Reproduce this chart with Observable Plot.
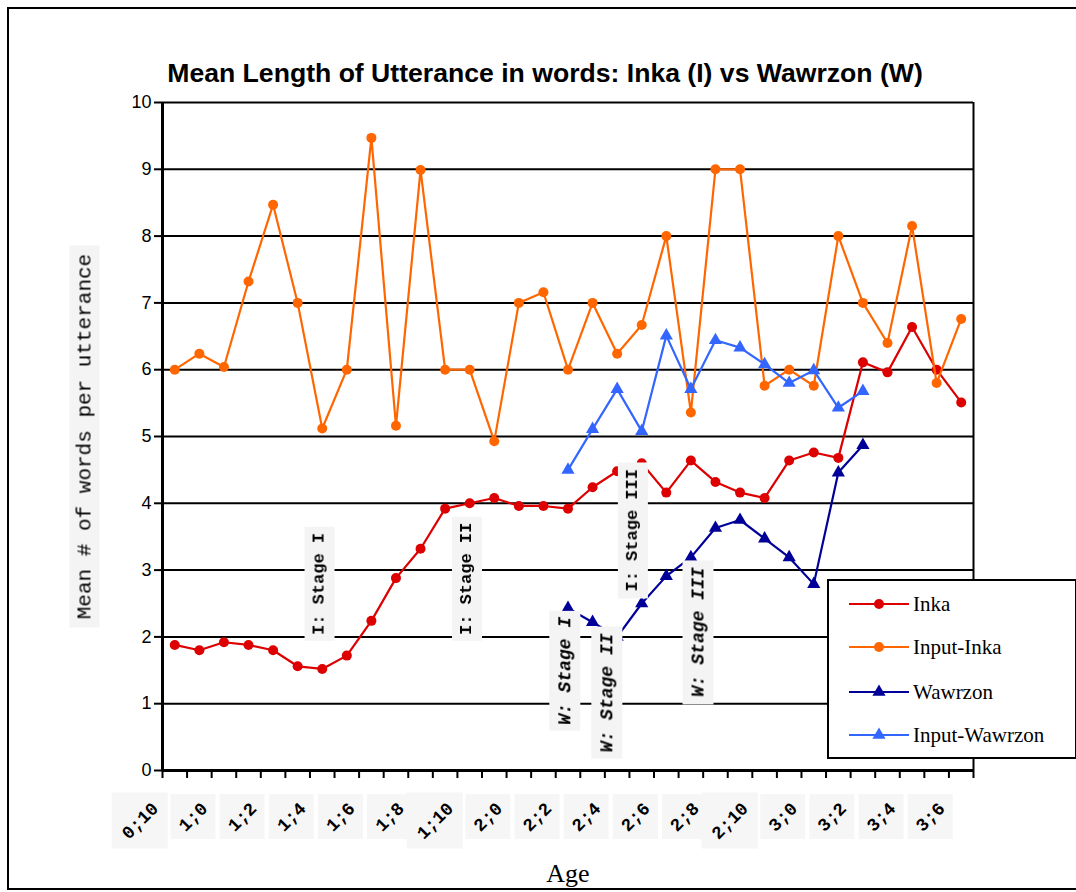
<!DOCTYPE html>
<html><head><meta charset="utf-8">
<script src="https://cdn.jsdelivr.net/npm/d3@7"></script>
<script src="https://cdn.jsdelivr.net/npm/@observablehq/plot@0.6"></script>
<style>
html,body{margin:0;padding:0;background:#fff;overflow:hidden;}
#wrap{position:relative;width:1076px;height:892px;overflow:hidden;}
#frame{position:absolute;left:7px;top:7px;width:1100px;height:879px;border:2px solid #000;}
#chart svg{position:absolute;left:0;top:0;}
#legend{position:absolute;left:827px;top:579px;width:246px;height:176px;border:2px solid #000;background:#fff;font-family:"Liberation Serif","Times New Roman",serif;font-size:21px;color:#000;}
#legend .row{position:absolute;left:0;height:30px;display:flex;align-items:center;}
#legend svg{display:block;margin-left:20px;}
#legend span{margin-left:4px;}
</style></head><body>
<div id="wrap"><div id="frame"></div><div id="chart"></div><div id="legend"></div></div>
<script>
const ages = ["0;10","0;11","1;0","1;1","1;2","1;3","1;4","1;5","1;6","1;7","1;8","1;9","1;10","1;11",
  "2;0","2;1","2;2","2;3","2;4","2;5","2;6","2;7","2;8","2;9","2;10","2;11","3;0","3;1","3;2","3;3","3;4","3;5","3;6"];
const tickLabels = ["0;10","1;0","1;2","1;4","1;6","1;8","1;10","2;0","2;2","2;4","2;6","2;8","2;10","3;0","3;2","3;4","3;6"];
const yTicks = [0,1,2,3,4,5,6,7,8,9,10];

const inka = [1.88,1.80,1.92,1.88,1.80,1.56,1.52,1.72,2.24,2.88,3.32,3.92,4.00,4.08,3.96,3.96,3.92,4.24,4.48,4.60,
  4.16,4.64,4.32,4.16,4.08,4.64,4.76,4.68,6.11,5.96,6.64,6.00,5.51];
const inputInka = [6.00,6.24,6.04,7.32,8.47,7.00,5.12,6.00,9.47,5.16,8.99,6.00,6.00,4.93,7.00,7.16,6.00,7.00,6.24,6.67,
  8.00,5.36,9.00,9.00,5.76,6.00,5.76,8.00,7.00,6.40,8.15,5.80,6.76];
const wawrzon = [null,null,null,null,null,null,null,null,null,null,null,null,null,null,null,null,
  2.43,2.22,2.00,2.50,2.91,3.19,3.63,3.75,3.47,3.19,2.79,4.46,4.87,null,null,null,null];
const inputWawrzon = [null,null,null,null,null,null,null,null,null,null,null,null,null,null,null,null,
  4.50,5.11,5.71,5.08,6.51,5.71,6.44,6.33,6.08,5.80,5.99,5.43,5.68,null,null,null,null];

const seriesNames = ["Inka","Input-Inka","Wawrzon","Input-Wawrzon"];
const seriesValues = [inka, inputInka, wawrzon, inputWawrzon];
const seriesColors = ["#dd0000","#ff6600","#000099","#3366ff"];
const seriesSymbols = ["circle","circle","triangle","triangle"];

const stageLabels = ["I: Stage I","I: Stage II","I: Stage III","W: Stage I","W: Stage II","W: Stage III"];
const stageAt = [6.35,12.35,19.1,16.35,18.06,21.77];
const stageLevel = [2.03,2.03,2.68,2.30,2.05,3.04];

const titleText = "Mean Length of Utterance in words: Inka (I) vs Wawrzon (W)";
const yTitle = "Mean # of words per utterance";
const xTitle = "Age";

// build tables
const rows = seriesNames.map((name, s) =>
  seriesValues[s].map((v, i) => ({name, x: i + 0.5, v})).filter(d => d.v != null));
const ticks = tickLabels.map(t => ({t, x: ages.indexOf(t) + 0.5}));
const stages = stageLabels.map((t, i) => ({t, x: stageAt[i], y: stageLevel[i], w: t.startsWith("W")}));

const seriesMarks = [];
rows.forEach((data, s) => {
  seriesMarks.push(Plot.line(data, {x: "x", y: "v", stroke: seriesColors[s], strokeWidth: 2.2}));
  seriesMarks.push(Plot.dot(data, {x: "x", y: "v", fill: seriesColors[s], stroke: "none",
    symbol: seriesSymbols[s], r: seriesSymbols[s] === "circle" ? 5 : 4.9}));
});

const monoFont = "'Liberation Mono','Courier New',monospace";
const chart = Plot.plot({
  width: 1076, height: 892,
  marginLeft: 162, marginRight: 103, marginTop: 102, marginBottom: 122,
  x: {domain: [0, 33]},
  y: {domain: [0, 10]},
  style: {background: "none", overflow: "visible", fontFamily: "'Liberation Sans',Arial,sans-serif"},
  marks: [
    Plot.ruleY(yTicks.filter(v => v > 0), {stroke: "#000", strokeWidth: 2}),
    Plot.ruleX([33], {stroke: "#000", strokeWidth: 2}),
    Plot.axisY({ticks: yTicks, tickSize: 8, tickPadding: 3, fontSize: 18, label: null, color: "#000", strokeWidth: 2, tickFormat: d => String(d)}),
    Plot.axisX({ticks: d3.range(0, 34), tickSize: 8, tickPadding: 0, label: null, color: "#000", strokeWidth: 2, tickFormat: () => ""}),
    Plot.ruleX([0], {stroke: "#000", strokeWidth: 3}),
    Plot.ruleY([0], {stroke: "#000", strokeWidth: 3}),
    // tick label backgrounds
    Plot.dot(ticks.filter(d => d.t.length === 3), {x: "x", y: () => 0, symbol: "square", r: 25.4, fill: "#f6f6f6", stroke: "none", dx: -31, dy: 46}),
    Plot.dot(ticks.filter(d => d.t.length === 4), {x: "x", y: () => 0, symbol: "square", r: 31.6, fill: "#f6f6f6", stroke: "none", dx: -35, dy: 50}),
    Plot.text(ticks, {x: "x", y: () => 0, text: "t", rotate: -45, textAnchor: "end", dx: -19.5, dy: 35,
      fontFamily: monoFont, fontWeight: "bold", fontSize: 18, fill: "#000"}),
    ...seriesMarks,
    // stage annotations
    Plot.text(stages.filter(d => !d.w), {x: "x", y: "y", text: "t", rotate: -90, textAnchor: "start",
      fontFamily: monoFont, fontWeight: "bold", fontSize: 17, fill: "#000"}),
    Plot.text(stages.filter(d => d.w), {x: "x", y: "y", text: "t", rotate: -90, textAnchor: "end",
      fontFamily: monoFont, fontWeight: "bold", fontStyle: "italic", fontSize: 18, fill: "#000"}),
    // titles
    Plot.text([titleText], {frameAnchor: "top", text: d => d, dx: -23, dy: -21, lineAnchor: "bottom", textAnchor: "middle",
      fontFamily: "'Liberation Sans',Arial,sans-serif", fontWeight: "bold", fontSize: 26.6, fill: "#000"}),
    Plot.text([yTitle], {frameAnchor: "left", text: d => d, dx: -79, rotate: -90, textAnchor: "middle",
      fontFamily: monoFont, fontSize: 21, fill: "#000"}),
    Plot.text([xTitle], {frameAnchor: "bottom", text: d => d, dy: 111, lineAnchor: "bottom", textAnchor: "middle",
      fontFamily: "'Liberation Serif','Times New Roman',serif", fontSize: 26, fill: "#000"})
  ]
});

// background boxes behind rotated labels
const ns = "http://www.w3.org/2000/svg";
const defs = document.createElementNS(ns, "defs");
defs.innerHTML = `
  <filter id="bgStage" x="-0.05" y="-0.25" width="1.1" height="1.5" color-interpolation-filters="sRGB"><feFlood flood-color="#f4f4f4" result="bg"/><feMerge><feMergeNode in="bg"/><feMergeNode in="SourceGraphic"/></feMerge></filter>
  <filter id="bgTitle" x="-0.02" y="-0.12" width="1.04" height="1.24" color-interpolation-filters="sRGB"><feFlood flood-color="#f4f4f4" result="bg"/><feMerge><feMergeNode in="bg"/><feMergeNode in="SourceGraphic"/></feMerge></filter>`;
chart.insertBefore(defs, chart.firstChild);
chart.querySelectorAll("text").forEach(t => {
  const s = t.textContent;
  if (stageLabels.includes(s)) t.setAttribute("filter", "url(#bgStage)");
  else if (s === yTitle) t.setAttribute("filter", "url(#bgTitle)");
});
document.getElementById("chart").appendChild(chart);

// legend
const legend = document.getElementById("legend");
const rowTops = [8, 51, 96, 139];
seriesNames.forEach((name, s) => {
  const row = document.createElement("div");
  row.className = "row";
  row.style.top = rowTops[s] + "px";
  const sym = seriesSymbols[s] === "circle"
    ? `<circle cx="30" cy="15" r="5" fill="${seriesColors[s]}"/>`
    : `<path d="${d3.symbol(d3.symbolTriangle, Math.PI * 4.9 * 4.9)()}" transform="translate(30,15)" fill="${seriesColors[s]}"/>`;
  row.innerHTML = `<svg width="60" height="30"><line x1="0" x2="60" y1="15" y2="15" stroke="${seriesColors[s]}" stroke-width="2.2"/>${sym}</svg><span>${name}</span>`;
  legend.appendChild(row);
});
</script>
</body></html>
